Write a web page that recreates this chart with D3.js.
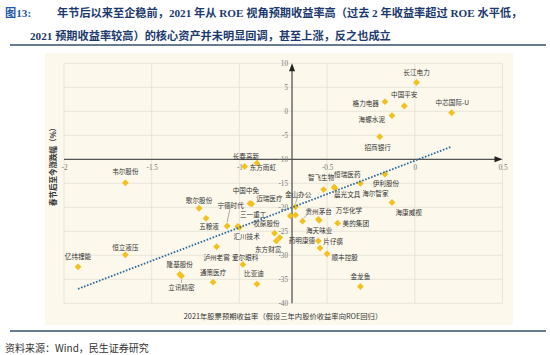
<!DOCTYPE html>
<html><head><meta charset="utf-8">
<script src="https://cdn.jsdelivr.net/npm/d3@7"></script>
<style>body{margin:0;background:#fff;} svg{display:block;}</style>
</head><body><svg id="c" width="550" height="355"></svg>
<script>
// ---------------- data ----------------
const names = ["长江电力","中国平安","格力电器","海螺水泥","中芯国际-U","招商银行","长春高新","东方雨虹","韦尔股份","智飞生物","恒瑞医药","晨光文具","海尔智家","伊利股份","海康威视","金山办公","","","贵州茅台","万华化学","海天味业","美的集团","中国中免","迈瑞医疗","宁德时代","歌尔股份","五粮液","三一重工","汇川技术","牧原股份","药明康德","东方财富","片仔癀","","顺丰控股","泸州老窖","爱尔眼科","通策医疗","比亚迪","金龙鱼","恒立液压","亿纬锂能","隆基股份","立讯精密"];
const expectedReturn = [0.01,-0.06,-0.17,-0.13,0.21,-0.2,-0.9,-0.97,-1.65,-0.52,-0.46,-0.455,-0.31,-0.17,-0.13,-0.68,-0.71,-0.68,-0.64,-0.55,-0.545,-0.44,-0.94,-0.93,-1.07,-1.23,-1.19,-1.01,-1.0,-0.8,-0.77,-0.79,-0.55,-0.54,-0.5,-1.13,-0.98,-1.15,-0.9,-0.31,-1.65,-1.92,-1.34,-1.33];
const priceChange = [6.0,1.1,2.0,-0.9,-0.3,-5.3,-10.8,-11.5,-14.9,-16.3,-15.8,-16.0,-15.0,-13.1,-19.0,-19.9,-21.8,-21.6,-22.9,-22.5,-22.7,-23.3,-19.2,-19.3,-23.9,-20.2,-22.3,-24.0,-24.2,-25.4,-26.3,-27.0,-27.0,-28.5,-29.7,-28.2,-31.9,-35.6,-36.0,-36.5,-29.9,-32.4,-34.0,-34.3];
const xTicks = [-2,-1.5,-1,-0.5,0,0.5];
const yTicks = [10,5,0,-5,-10,-15,-20,-25,-30,-35,-40];
const xCross = -0.7;   // value where vertical axis crosses
const yCross = -10;    // value where horizontal axis crosses
const figLabel = "图13:";
const titleLine1 = "年节后以来至企稳前，2021 年从 ROE 视角预期收益率高（过去 2 年收益率超过 ROE 水平低，";
const titleLine2 = "2021 预期收益率较高）的核心资产并未明显回调，甚至上涨，反之也成立";
const xTitle = "2021年股票预期收益率（假设三年内股价收益率向ROE回归）";
const yTitle = "春节后至今涨跌幅（%）";
const source = "资料来源：Wind，民生证券研究";

// ---------------- label layout (dx, dy, anchor, leader) ----------------
const labelLayout = {
  "长江电力":[0,-11,"middle"], "中国平安":[0,-11.7,"middle"], "格力电器":[-6,1.5,"end"],
  "海螺水泥":[-7,3.5,"end"], "中芯国际-U":[0.7,-11,"middle"], "招商银行":[-2,10,"middle"],
  "长春高新":[-11,-7.3,"middle"], "东方雨虹":[5,0,"start"], "韦尔股份":[0,-12,"middle"],
  "智飞生物":[-2.5,-12.6,"middle"], "恒瑞医药":[0,-13,"start"], "晨光文具":[-1,6,"start"],
  "海尔智家":[1.7,9.4,"start"], "伊利股份":[1,9,"middle"], "海康威视":[3.5,9.6,"start"],
  "金山办公":[2.6,-12.4,"middle",[0,-3.5,1.5,-8.5]], "贵州茅台":[3,-10,"start",[1,-3,5,-7]],
  "万华化学":[17.5,-9,"start"], "海天味业":[0,10,"middle"], "美的集团":[5,0,"start"],
  "中国中免":[-4,-13.3,"middle"], "迈瑞医疗":[4.5,-5.7,"start"], "宁德时代":[3.5,-21,"middle",[0,-4,2.8,-17]],
  "歌尔股份":[0,-8.3,"middle"], "五粮液":[3,7.7,"middle"], "三一重工":[2.4,-12.4,"start"],
  "汇川技术":[-6,8.7,"start"], "牧原股份":[-8,-10.5,"middle"], "药明康德":[9,2.3,"start"],
  "东方财富":[-8,8,"middle"], "片仔癀":[5,0,"start"], "顺丰控股":[4.4,2.7,"start"],
  "泸州老窖":[0,10,"middle"], "爱尔眼科":[2.3,-7.6,"middle"], "通策医疗":[0,-10.6,"middle"],
  "比亚迪":[-3,-10.7,"middle"], "金龙鱼":[0,-11,"middle"], "恒立液压":[0,-8.3,"middle"],
  "亿纬锂能":[0,-11,"middle"], "隆基股份":[0,-10.3,"middle"], "立讯精密":[0,11.2,"middle",[0,3.5,0,7]]
};

// ---------------- drawing ----------------
const svg = d3.select("#c");
const cjk = "'Noto Sans CJK SC','Noto Sans',sans-serif";
const serif = "'Liberation Serif','Noto Sans CJK SC',serif";

// title
svg.append("text").attr("x",5).attr("y",13).attr("dominant-baseline","central")
  .attr("font-family",serif).attr("font-weight","bold").attr("font-size",11.2)
  .attr("fill","#1f5ba8").text(figLabel);
svg.append("text").attr("x",57).attr("y",13).attr("dominant-baseline","central")
  .attr("font-family",serif).attr("font-weight","bold").attr("font-size",11.2)
  .attr("fill","#1c3a6e").text(titleLine1);
svg.append("text").attr("x",30).attr("y",35.5).attr("dominant-baseline","central")
  .attr("font-family",serif).attr("font-weight","bold").attr("font-size",11.2)
  .attr("fill","#1c3a6e").text(titleLine2);
svg.append("line").attr("x1",10).attr("x2",546).attr("y1",45).attr("y2",45)
  .attr("stroke","#34506e").attr("stroke-width",1.6);

// chart background
svg.append("rect").attr("x",45).attr("y",53).attr("width",468).attr("height",272).attr("fill","#fcf8ec");

const x = d3.scaleLinear().domain([-2,0.5]).range([64,502.5]);
const y = d3.scaleLinear().domain([-40,10]).range([303.3,63.3]);

// grid
const grid = svg.append("g").attr("stroke","#e4e0d6").attr("stroke-width",0.8);
grid.selectAll(".gv").data(xTicks).enter().append("line")
  .attr("x1",d=>x(d)).attr("x2",d=>x(d)).attr("y1",y(10)).attr("y2",y(-40));
grid.selectAll(".gh").data(yTicks).enter().append("line")
  .attr("y1",d=>y(d)).attr("y2",d=>y(d)).attr("x1",x(-2)).attr("x2",x(0.5));

// axes lines with arrows
const axisColor = "#555";
svg.append("line").attr("x1",x(-2)).attr("x2",x(0.5)-4).attr("y1",y(yCross)).attr("y2",y(yCross))
  .attr("stroke",axisColor).attr("stroke-width",1.3);
svg.append("line").attr("x1",x(xCross)).attr("x2",x(xCross)).attr("y1",y(-40)).attr("y2",y(10)+4)
  .attr("stroke",axisColor).attr("stroke-width",1.3);
{
  const tx = x(0.5), ty = y(yCross);
  svg.append("path").attr("d",`M${tx},${ty} L${tx-8},${ty-3} L${tx-8},${ty+3} Z`).attr("fill","#222");
  const vx = x(xCross), vy = y(10);
  svg.append("path").attr("d",`M${vx},${vy} L${vx-3},${vy+8} L${vx+3},${vy+8} Z`).attr("fill","#222");
}

// tick labels via d3 axes
const gx = svg.append("g").attr("transform",`translate(0,${y(yCross)})`)
  .call(d3.axisBottom(x).tickValues(xTicks).tickSize(0).tickPadding(6).tickFormat(d=>String(d)));
const gy = svg.append("g").attr("transform",`translate(${x(xCross)},0)`)
  .call(d3.axisLeft(y).tickValues(yTicks).tickSize(0).tickPadding(4).tickFormat(d=>String(d)));
[gx,gy].forEach(g=>{
  g.select(".domain").remove();
  g.selectAll("text").attr("font-family",serif).attr("font-size",7.2).attr("fill","#777");
});

// points
const data = names.map((n,i)=>({name:n, xv:expectedReturn[i], yv:priceChange[i]}));
const r = 3.4;
svg.append("g").selectAll("path").data(data).enter().append("path")
  .attr("d",d=>{const px=x(d.xv), py=y(d.yv); return `M${px},${py-r} L${px+r},${py} L${px},${py+r} L${px-r},${py} Z`;})
  .attr("fill","#f2c11f");

// leaders + labels
const lab = svg.append("g");
data.forEach(d=>{
  if(!d.name) return;
  const L = labelLayout[d.name]; if(!L) return;
  const px=x(d.xv), py=y(d.yv);
  if(L[3]){
    lab.append("line").attr("x1",px+L[3][0]).attr("y1",py+L[3][1]).attr("x2",px+L[3][2]).attr("y2",py+L[3][3])
      .attr("stroke","#777").attr("stroke-width",0.6);
  }
  lab.append("text").attr("x",px+L[0]).attr("y",py+L[1]).attr("text-anchor",L[2])
    .attr("dominant-baseline","central").attr("font-family",cjk).attr("font-size",6.6)
    .attr("fill","#333").text(d.name);
});

// linear trend line (least squares)
const mx = d3.mean(data,d=>d.xv), my = d3.mean(data,d=>d.yv);
const slope = d3.sum(data,d=>(d.xv-mx)*(d.yv-my)) / d3.sum(data,d=>(d.xv-mx)**2);
const icpt = my - slope*mx;
const [x0,x1] = d3.extent(data,d=>d.xv);
svg.append("line").attr("x1",x(x0)).attr("y1",y(icpt+slope*x0)).attr("x2",x(x1)).attr("y2",y(icpt+slope*x1))
  .attr("stroke","#2a6a9e").attr("stroke-width",1.8).attr("stroke-dasharray","1.6,1.6");

// axis titles
svg.append("text").attr("x",283).attr("y",316).attr("text-anchor","middle").attr("dominant-baseline","central")
  .attr("font-family",cjk).attr("font-size",7.3).attr("fill","#333").text(xTitle);
svg.append("text").attr("transform","translate(52,165) rotate(-90)").attr("text-anchor","middle")
  .attr("dominant-baseline","central").attr("font-family",cjk).attr("font-size",7.5).attr("font-weight","bold")
  .attr("fill","#333").text(yTitle);

// footer
svg.append("line").attr("x1",10).attr("x2",546).attr("y1",331).attr("y2",331)
  .attr("stroke","#34506e").attr("stroke-width",1.6);
svg.append("text").attr("x",5).attr("y",347).attr("dominant-baseline","central")
  .attr("font-family",cjk).attr("font-size",10).attr("fill","#333").text(source);
</script></body></html>
